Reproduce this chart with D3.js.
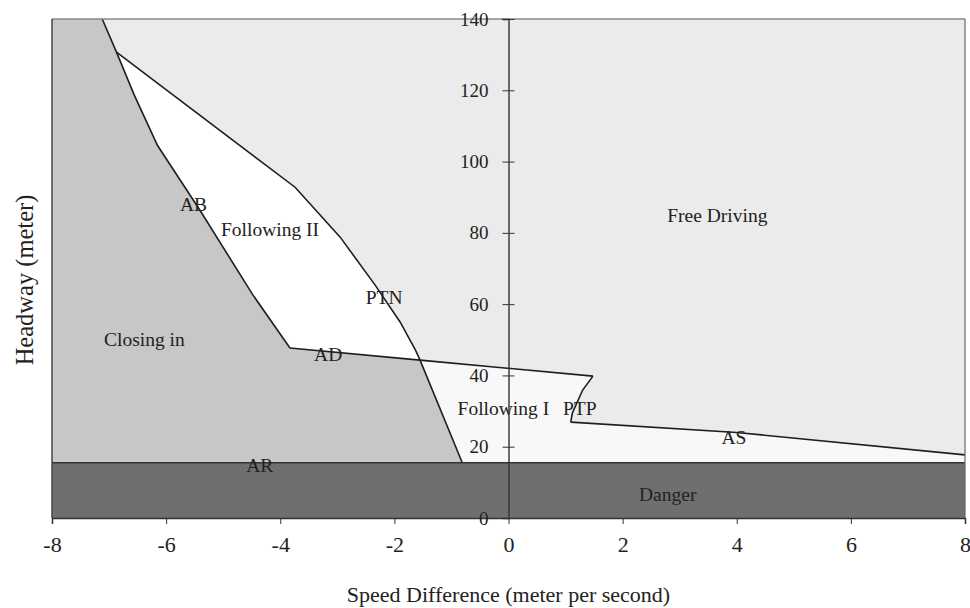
<!DOCTYPE html>
<html>
<head>
<meta charset="utf-8">
<script src="https://cdn.jsdelivr.net/npm/d3@7"></script>
<style>
  body { margin: 0; background: #fff; }
  text { font-family: "Liberation Serif", "Times New Roman", serif; fill: #222; }
</style>
</head>
<body>
<div id="chart"></div>
<script>
// boundary lines (speed difference, headway)
const abLine = [[-7.12, 140], [-6.87, 130.7], [-6.56, 118.7], [-6.15, 104.5], [-5.41, 86.4], [-4.48, 62.6], [-3.83, 47.7]];
const ptnLine = [[-6.87, 130.7], [-3.74, 92.8], [-2.95, 78.8], [-2.34, 65.4], [-1.90, 55.0], [-1.63, 47.1], [-1.55, 44.3], [-0.81, 15.5]];
const adLine = [[-3.83, 47.7], [-1.55, 44.3], [1.48, 39.8]];
const ptpLine = [[1.48, 39.8], [1.30, 35.9], [1.12, 29.5], [1.09, 26.9]];
const asLine = [[1.09, 26.9], [4.0, 24.0], [8, 17.7]];
const dangerTop = 15.5;

const xTicks = [-8, -6, -4, -2, 0, 2, 4, 6, 8];
const yTicks = [0, 20, 40, 60, 80, 100, 120, 140];

const regionLabels = [
  {text: "Free Driving", x: 3.66, y: 85},
  {text: "Following II", x: -4.18, y: 81},
  {text: "AB", x: -5.52, y: 88},
  {text: "PTN", x: -2.18, y: 62},
  {text: "Closing in", x: -6.38, y: 50.2},
  {text: "AD", x: -3.16, y: 46},
  {text: "Following I", x: -0.09, y: 30.6},
  {text: "PTP", x: 1.25, y: 30.6},
  {text: "AS", x: 3.95, y: 22.7},
  {text: "AR", x: -4.36, y: 14.6},
  {text: "Danger", x: 2.79, y: 6.7}
];

const margin = {top: 19, right: 5, bottom: 90, left: 52};
const size = {width: 970, height: 608};
const width = size.width - margin.left - margin.right;
const height = size.height - margin.top - margin.bottom;

const svg = d3.select("#chart").append("svg")
    .attr("width", size.width)
    .attr("height", size.height);
const g = svg.append("g")
    .attr("transform", "translate(" + margin.left + "," + margin.top + ")");

const xScale = d3.scaleLinear().domain([-8, 8]).range([0, width]);
const yScale = d3.scaleLinear().domain([0, 140]).range([height, 0]);

const pt = d => [xScale(d[0]), yScale(d[1])];
const poly = pts => "M" + pts.map(d => pt(d).join(",")).join("L") + "Z";

// free driving background
g.append("rect")
    .attr("x", 0).attr("y", 0)
    .attr("width", width).attr("height", height)
    .attr("fill", "#ebebeb");

// closing in
const split = ptnLine.findIndex(d => d[0] === -1.55);
const ptnLower = ptnLine.slice(split);
const closingPts = [[-8, 140]].concat(abLine, adLine.slice(1, 2), ptnLower.slice(1), [[-8, dangerTop]]);
g.append("path").attr("d", poly(closingPts)).attr("fill", "#c7c7c7");

// following II
const ptnUpper = ptnLine.slice(0, split + 1);
const follow2Pts = ptnUpper.concat([adLine[0]], abLine.slice(1).reverse().slice(1));
g.append("path").attr("d", poly(follow2Pts)).attr("fill", "#ffffff");

// following I
const follow1Pts = adLine.slice(1).concat(ptpLine.slice(1), asLine.slice(1), [[8, dangerTop]], ptnLower.slice().reverse());
g.append("path").attr("d", poly(follow1Pts)).attr("fill", "#f8f8f8");

// danger
g.append("rect")
    .attr("x", 0).attr("y", yScale(dangerTop))
    .attr("width", width).attr("height", yScale(0) - yScale(dangerTop))
    .attr("fill", "#6f6f6f");

// boundary lines
const line = d3.line().x(d => xScale(d[0])).y(d => yScale(d[1]));
[abLine, ptnLine, adLine, ptpLine, asLine].forEach(l => {
  g.append("path").attr("d", line(l))
      .attr("fill", "none").attr("stroke", "#1e1e1e").attr("stroke-width", 1.6);
});
g.append("line")
    .attr("x1", 0).attr("x2", width)
    .attr("y1", yScale(dangerTop)).attr("y2", yScale(dangerTop))
    .attr("stroke", "#333").attr("stroke-width", 1.4);

// frame
g.append("line").attr("x1", 0).attr("x2", width).attr("y1", 0).attr("y2", 0)
    .attr("stroke", "#888").attr("stroke-width", 1.5);
g.append("line").attr("x1", 0).attr("x2", 0).attr("y1", 0).attr("y2", height)
    .attr("stroke", "#444").attr("stroke-width", 1.5);
g.append("line").attr("x1", width).attr("x2", width).attr("y1", 0).attr("y2", height)
    .attr("stroke", "#666").attr("stroke-width", 1.2);

// x axis
const xAxisG = g.append("g")
    .attr("transform", "translate(0," + height + ")")
    .call(d3.axisBottom(xScale).tickValues(xTicks).tickSize(6).tickPadding(12).tickFormat(d => String(d)));
xAxisG.select(".domain").attr("stroke", "#333").attr("stroke-width", 1.5);
xAxisG.selectAll(".tick line").attr("stroke", "#333");
xAxisG.selectAll("text").attr("font-size", 22).attr("font-family", "Liberation Serif, serif").attr("fill", "#222");

// y axis through x = 0
const yAxisG = g.append("g")
    .attr("transform", "translate(" + xScale(0) + ",0)")
    .call(d3.axisLeft(yScale).tickValues(yTicks).tickSize(6).tickPadding(14));
yAxisG.select(".domain").attr("stroke", "#333").attr("stroke-width", 1.4);
yAxisG.selectAll(".tick line").attr("x2", 6).attr("x1", -6).attr("stroke", "#333");
yAxisG.selectAll("text").attr("font-size", 19).attr("font-family", "Liberation Serif, serif").attr("fill", "#222");

// region labels
g.selectAll(".regionLabel")
    .data(regionLabels)
    .join("text")
    .attr("class", "regionLabel")
    .attr("x", d => xScale(d.x))
    .attr("y", d => yScale(d.y))
    .attr("text-anchor", "middle")
    .attr("dominant-baseline", "central")
    .attr("font-size", 19.5)
    .text(d => d.text);

// axis titles
svg.append("text")
    .attr("x", margin.left + xScale(0))
    .attr("y", 594)
    .attr("text-anchor", "middle")
    .attr("dominant-baseline", "central")
    .attr("font-size", 22)
    .text("Speed Difference (meter per second)");
svg.append("text")
    .attr("transform", "translate(24,280) rotate(-90)")
    .attr("text-anchor", "middle")
    .attr("dominant-baseline", "central")
    .attr("font-size", 24.5)
    .text("Headway (meter)");
</script>
</body>
</html>
